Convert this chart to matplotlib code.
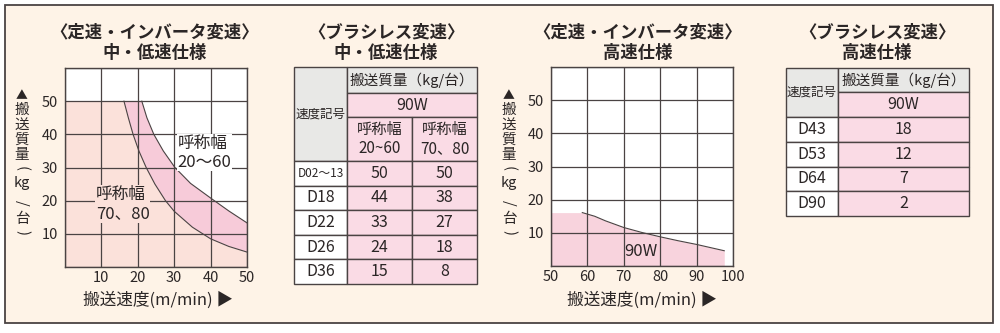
"""Conveyor load capacity vs. conveyor speed: two charts and two tables."""
import matplotlib

matplotlib.use("Agg")
import matplotlib.pyplot as plt
import numpy as np
from matplotlib.patches import Rectangle

plt.rcParams['font.family'] = ['Noto Sans CJK JP', 'DejaVu Sans']

# ---- data -----------------------------------------------------------------
MAX_LOAD = 50

# 定速・インバータ変速 中・低速仕様: curves
low_speed = [16.2, 17.4, 18.7, 20.3, 22.3, 24.7, 27.6, 30, 35, 40, 45, 50]
low_load = [50, 45, 40, 35, 30, 25, 20, 16.8, 12, 8.5, 6.2, 4.5]
up_speed = [21.1, 22.5, 24.4, 27.0, 30.2, 34.5, 40, 45, 50]
up_load = [50, 45, 40, 35, 30, 25.2, 20.8, 16.9, 13.3]

# 定速・インバータ変速 高速仕様 (90W)
hi_speed = [50, 58.6, 62, 65, 70, 75, 80, 85, 90, 97.6]
hi_load = [16.1, 16.1, 15, 13.6, 11.6, 10.1, 8.8, 7.6, 6.5, 4.6]

# ブラシレス変速 中・低速仕様
mid_codes = ['D02〜13', 'D18', 'D22', 'D26', 'D36']
mid_w20_60 = [50, 44, 33, 24, 15]
mid_w70_80 = [50, 38, 27, 18, 8]

# ブラシレス変速 高速仕様
high_codes = ['D43', 'D53', 'D64', 'D90']
high_load = [18, 12, 7, 2]

# ---- style ----------------------------------------------------------------
W, H = 1000, 333
CREAM = '#fef3e7'
INK = '#2b2626'
LINE = '#4a4343'
LIGHT = '#fbe1da'
BAND = '#f7cbd9'
PINK = '#f8d3dd'
CELL_PINK = '#fadbe5'
GRAY = '#e8e8e6'

fig = plt.figure(figsize=(10, 3.33), dpi=100)
fig.patch.set_facecolor('white')

# full-figure overlay in pixel coordinates (y downwards)
bg = fig.add_axes([0, 0, 1, 1], zorder=0)
bg.set_xlim(0, W)
bg.set_ylim(H, 0)
bg.axis('off')
bg.add_patch(Rectangle((4.5, 5), 988.5, 317.5, facecolor=CREAM,
                       edgecolor=LINE, lw=1.3))


def px_axes(left, top, right, bottom):
    return fig.add_axes([left / W, 1 - bottom / H, (right - left) / W,
                         (bottom - top) / H], zorder=2)


def title(xc, line1, line2):
    bg.text(xc, 32, line1, ha='center', va='center', fontsize=12.5,
            fontweight='bold', color=INK)
    bg.text(xc, 53, line2, ha='center', va='center', fontsize=12.5,
            fontweight='bold', color=INK)


def vlabel(xc):
    # vertical Japanese label, one glyph group per step
    parts = [('▲', 96, 0, 8.5), ('搬', 110, 0, 10.5), ('送', 125, 0, 10.5),
             ('質', 140, 0, 10.5), ('量', 155, 0, 10.5), ('(', 168, -90, 10.5),
             ('kg', 183, 0, 10.5), ('/', 203, -90, 10.5), ('台', 219, 0, 10.5),
             (')', 233, -90, 10.5)]
    for s, y, rot, fs in parts:
        bg.text(xc, y, s, ha='center', va='center', rotation=rot,
                fontsize=fs, color=INK)


def style_chart(ax, xlim, xticks, xlabels):
    ax.set_facecolor('white')
    ax.set_xlim(*xlim)
    ax.set_ylim(0, 60)
    ax.set_xticks(xticks)
    ax.set_xticklabels(xlabels)
    ax.set_yticks(range(0, 61, 10))
    ax.set_yticklabels(['', '10', '20', '30', '40', '50', ''])
    ax.grid(True, color=LINE, lw=0.9)
    ax.set_axisbelow(False)
    for sp in ax.spines.values():
        sp.set_color(LINE)
        sp.set_linewidth(1.0)
    ax.tick_params(length=0, labelsize=10.5, colors=INK, pad=5)
    ax.tick_params(axis='x', pad=3)


# ---- chart 1: 定速・インバータ変速 中・低速仕様 ------------------------------
title(155, '〈定速・インバータ変速〉', '中・低速仕様')
ax1 = px_axes(65, 68, 247, 267)
style_chart(ax1, (0, 50), range(0, 51, 10), ['', '10', '20', '30', '40', '50'])
ax1.fill_between(np.r_[0, low_speed], np.r_[MAX_LOAD, low_load], 0,
                 color=LIGHT, lw=0, zorder=0.5)
ax1.fill(np.r_[low_speed, up_speed[::-1]], np.r_[low_load, up_load[::-1]],
         color=BAND, lw=0, zorder=0.6)
ax1.plot(low_speed, low_load, color=LINE, lw=0.8, zorder=3)
ax1.plot(up_speed, up_load, color=LINE, lw=0.8, zorder=3)
ax1.text(30.9, 34.5, '呼称幅\n20〜60', fontsize=12, color=INK, ha='left',
         va='center', linespacing=1.15, zorder=5,
         bbox=dict(facecolor='white', edgecolor='none', pad=0.5))
ax1.text(8.5, 19, '呼称幅\n70、80', fontsize=12, color=INK, ha='left',
         va='center', linespacing=1.15, zorder=5,
         bbox=dict(facecolor=LIGHT, edgecolor='none', pad=0.5))
vlabel(22)
bg.text(158, 300, '搬送速度(m/min) ▶', ha='center', va='center',
        fontsize=12, color=INK)

# ---- chart 3: 定速・インバータ変速 高速仕様 --------------------------------
title(638, '〈定速・インバータ変速〉', '高速仕様')
ax3 = px_axes(551, 67, 733, 266)
style_chart(ax3, (50, 100), range(50, 101, 10),
            ['50', '60', '70', '80', '90', '100'])
ax3.fill_between(hi_speed, hi_load, 0, color=PINK, lw=0, zorder=0.5)
ax3.plot(hi_speed[1:], hi_load[1:], color=LINE, lw=0.8, zorder=3)
ax3.text(74.7, 4.4, '90W', fontsize=12, color=INK, ha='center', va='center',
         zorder=5)
vlabel(509)
bg.text(642, 300, '搬送速度(m/min) ▶', ha='center', va='center',
        fontsize=12, color=INK)


# ---- tables -----------------------------------------------------------------
def cell(x0, y0, x1, y1, color, text='', fs=11.5, **kw):
    bg.add_patch(Rectangle((x0, y0), x1 - x0, y1 - y0, facecolor=color,
                           edgecolor=LINE, lw=1.0, zorder=1))
    if text != '':
        bg.text((x0 + x1) / 2, (y0 + y1) / 2, str(text), ha='center',
                va='center', fontsize=fs, color=INK, zorder=2, **kw)


# ブラシレス変速 中・低速仕様
title(386, '〈ブラシレス変速〉', '中・低速仕様')
cx = [294, 347, 412, 477]
cell(cx[0], 67, cx[1], 161, GRAY, '速度記号', fs=9)
cell(cx[1], 67, cx[3], 93, GRAY, '搬送質量（kg/台）', fs=10.5)
cell(cx[1], 93, cx[3], 117, CELL_PINK, '90W', fs=11.5)
cell(cx[1], 117, cx[2], 161, CELL_PINK, '呼称幅\n20~60', fs=11,
     linespacing=1.1)
cell(cx[2], 117, cx[3], 161, CELL_PINK, '呼称幅\n70、80', fs=11,
     linespacing=1.1)
row_h = (284 - 161) / len(mid_codes)
for i, (code, a, b) in enumerate(zip(mid_codes, mid_w20_60, mid_w70_80)):
    y0 = 161 + i * row_h
    cell(cx[0], y0, cx[1], y0 + row_h, 'white', code,
         fs=8.5 if len(code) > 4 else 11.5)
    cell(cx[1], y0, cx[2], y0 + row_h, CELL_PINK, a)
    cell(cx[2], y0, cx[3], y0 + row_h, CELL_PINK, b)

# ブラシレス変速 高速仕様
title(877, '〈ブラシレス変速〉', '高速仕様')
hx = [786, 838, 969]
cell(hx[0], 68, hx[1], 117, GRAY, '速度記号', fs=9)
cell(hx[1], 68, hx[2], 92, GRAY, '搬送質量（kg/台）', fs=10.5)
cell(hx[1], 92, hx[2], 117, CELL_PINK, '90W', fs=11.5)
row_h = (216 - 117) / len(high_codes)
for i, (code, v) in enumerate(zip(high_codes, high_load)):
    y0 = 117 + i * row_h
    cell(hx[0], y0, hx[1], y0 + row_h, 'white', code)
    cell(hx[1], y0, hx[2], y0 + row_h, CELL_PINK, v)

fig.savefig('out.png', dpi=100, facecolor='white')
plt.close(fig)
